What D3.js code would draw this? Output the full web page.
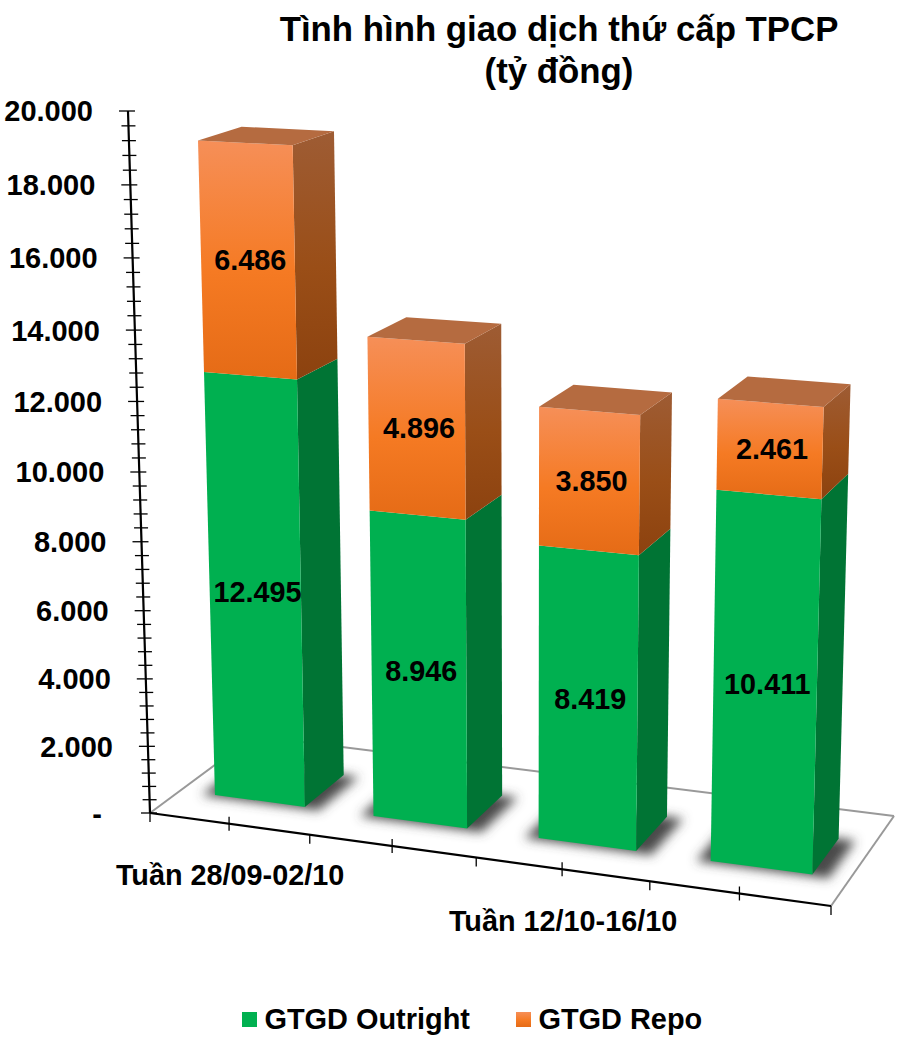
<!DOCTYPE html>
<html>
<head>
<meta charset="utf-8">
<script src="https://d3js.org/d3.v7.min.js"></script>
<style>
html,body{margin:0;padding:0;background:#fff}
svg{display:block}
text{font-family:"Liberation Sans",Arial,sans-serif;font-weight:bold;fill:#000}
</style>
</head>
<body>
<svg id="chart" width="922" height="1045"></svg>
<script>
const categories = ["Tuần 28/09-02/10", "Tuần 05/10-09/10", "Tuần 12/10-16/10", "Tuần 19/10-23/10"];
const shownCategoryLabels = ["Tuần 28/09-02/10", "Tuần 12/10-16/10"];
const outright = [12495, 8946, 8419, 10411];
const repo = [6486, 4896, 3850, 2461];
const seriesNames = ["GTGD Outright", "GTGD Repo"];
const yTicks = [0, 2000, 4000, 6000, 8000, 10000, 12000, 14000, 16000, 18000, 20000];
const titleLines = ["Tình hình giao dịch thứ cấp TPCP", "(tỷ đồng)"];

const svg = d3.select("#chart");

/* ---------- perspective projection of the chart box ---------- */
const q = [[150,813],[831,906],[894,816],[254,736]];  // floor corners on screen
const dx1=q[1][0]-q[2][0], dx2=q[3][0]-q[2][0], sx=q[0][0]-q[1][0]+q[2][0]-q[3][0];
const dy1=q[1][1]-q[2][1], dy2=q[3][1]-q[2][1], sy=q[0][1]-q[1][1]+q[2][1]-q[3][1];
const det=dx1*dy2-dx2*dy1;
const g=(sx*dy2-dx2*sy)/det, h=(dx1*sy-sx*dy1)/det;
const a=q[1][0]-q[0][0]+g*q[1][0], b=q[3][0]-q[0][0]+h*q[3][0], c=q[0][0];
const d=q[1][1]-q[0][1]+g*q[1][1], e=q[3][1]-q[0][1]+h*q[3][1], f=q[0][1];
const a3=-29.1, b3=-708.15, g3=-0.0554;

const tScale = d3.scaleLinear().domain([0, 20000]).range([0, 1]);
const uScale = d3.scaleBand().domain(d3.range(categories.length)).range([0.002, 1.002]).paddingInner(0.428).paddingOuter(0.214);
const vFront = 0.28, vBack = 0.68;

function project(u, v, value) {
  const t = tScale(value);
  const D = 1 + g*u + h*v + g3*t;
  return [(c + a*u + b*v + a3*t)/D, (f + d*u + e*v + b3*t)/D];
}
const poly = pts => pts.map(p => p.join(",")).join(" ");

/* ---------- defs ---------- */
const defs = svg.append("defs");
function grad(id, stops) {
  const lg = defs.append("linearGradient").attr("id", id).attr("x1",0).attr("y1",0).attr("x2",0).attr("y2",1);
  stops.forEach(s => lg.append("stop").attr("offset", s[0]).attr("stop-color", s[1]));
}
grad("orangeFront", [[0,"#F68F58"],[0.55,"#F57A23"],[1,"#E56B16"]]);
grad("orangeSide", [[0,"#9E5C34"],[0.55,"#9A4E17"],[1,"#8C420F"]]);
grad("orangeLegend", [[0,"#F68F58"],[0.55,"#F57A23"],[1,"#E56B16"]]);
defs.append("filter").attr("id","soft").attr("x","-30%").attr("y","-50%").attr("width","160%").attr("height","200%")
  .append("feGaussianBlur").attr("stdDeviation",5.5);

/* ---------- title ---------- */
svg.append("g").selectAll("text").data(titleLines).join("text")
  .attr("x",559).attr("y",(_,i)=>41+i*42).attr("text-anchor","middle")
  .style("font-size","34.8px").text(t=>t);

/* ---------- floor ---------- */
const floor = svg.append("g");
const floorEdges = [[[0,0],[0,1]],[[0,1],[1,1]],[[1,1],[1,0]]];
floor.selectAll("line").data(floorEdges).join("line")
  .attr("x1",s=>project(s[0][0],s[0][1],0)[0]).attr("y1",s=>project(s[0][0],s[0][1],0)[1])
  .attr("x2",s=>project(s[1][0],s[1][1],0)[0]).attr("y2",s=>project(s[1][0],s[1][1],0)[1])
  .attr("stroke","#999").attr("stroke-width",2);

/* ---------- shadows ---------- */
svg.append("g").attr("filter","url(#soft)").selectAll("polygon").data(categories).join("polygon")
  .attr("fill","#484848")
  .attr("points",(_,i)=>{
    const u0=uScale(i)-0.018,u1=uScale(i)+uScale.bandwidth()+0.024;
    return poly([project(u0,vFront-0.02,0),project(u1,vFront-0.02,0),project(u1,vBack,0),project(u0,vBack,0)]);
  });

/* ---------- axes ---------- */
const axes = svg.append("g");
const yMinor = d3.range(0, 20001, 400).filter(v => !yTicks.includes(v));
axes.selectAll("line.minor").data(yMinor).join("line").attr("class","minor")
  .attr("x1",v=>project(0,0,v)[0]-7).attr("x2",v=>project(0,0,v)[0]+7)
  .attr("y1",v=>project(0,0,v)[1]).attr("y2",v=>project(0,0,v)[1])
  .attr("stroke","#000").attr("stroke-width",1.3);
axes.selectAll("line.major").data(yTicks).join("line").attr("class","major")
  .attr("x1",v=>project(0,0,v)[0]-9).attr("x2",v=>project(0,0,v)[0]+7)
  .attr("y1",v=>project(0,0,v)[1]).attr("y2",v=>project(0,0,v)[1])
  .attr("stroke","#000").attr("stroke-width",1.3);
const axisLines = [[[0,0,0],[0,0,20000]],[[0,0,0],[1,0,0]]];
axes.selectAll("line.axis").data(axisLines).join("line").attr("class","axis")
  .attr("x1",s=>project(...s[0])[0]).attr("y1",s=>project(...s[0])[1])
  .attr("x2",s=>project(...s[1])[0]).attr("y2",s=>project(...s[1])[1])
  .attr("stroke","#000").attr("stroke-width",2.2);
const xTickU = d3.range(0, 9).map(i => i/8);
axes.selectAll("line.xt").data(xTickU).join("line").attr("class","xt")
  .attr("x1",u=>project(u,0,0)[0]).attr("x2",u=>project(u,0,0)[0])
  .attr("y1",(u,i)=>project(u,0,0)[1]-(i%2?7:0)).attr("y2",(u,i)=>project(u,0,0)[1]+(i%2?7:9))
  .attr("stroke","#000").attr("stroke-width",1.3);

const fmt = d3.formatLocale({decimal:",",thousands:".",grouping:[3],currency:["",""]}).format(",d");
axes.selectAll("text.yl").data(yTicks).join("text").attr("class","yl")
  .attr("x",v=>project(0,0,v)[0]-(v===0?48:35)).attr("y",v=>project(0,0,v)[1]+10.5)
  .attr("text-anchor","end").style("font-size","29px")
  .text(v=>v===0?"-":fmt(v));

/* x labels */
const catLabelY = [885, 931];
svg.append("g").selectAll("text").data(shownCategoryLabels).join("text")
  .attr("x",(l,i)=>project((categories.indexOf(l)+0.5)/categories.length,0,0)[0]+1)
  .attr("y",(_,i)=>catLabelY[i]).attr("text-anchor","middle")
  .style("font-size","28.8px").text(l=>l);

/* ---------- bars ---------- */
const bars = svg.append("g").selectAll("g").data(categories).join("g");
bars.each(function(_,i){
  const G = d3.select(this);
  const u0=uScale(i), u1=u0+uScale.bandwidth();
  const segs=[
    {lo:0,hi:outright[i],front:"#00B050",side:"#007434",val:outright[i]},
    {lo:outright[i],hi:outright[i]+repo[i],front:"url(#orangeFront)",side:"url(#orangeSide)",val:repo[i]}
  ];
  segs.forEach(s=>{
    G.append("polygon").attr("fill",s.side)
      .attr("points",poly([project(u1,vFront,s.hi),project(u1,vBack,s.hi),project(u1,vBack,s.lo),project(u1,vFront,s.lo)]));
    G.append("polygon").attr("fill",s.front)
      .attr("points",poly([project(u0,vFront,s.hi),project(u1,vFront,s.hi),project(u1,vFront,s.lo),project(u0,vFront,s.lo)]));
  });
  const top=outright[i]+repo[i];
  G.append("polygon").attr("fill","#B56B40")
    .attr("points",poly([project(u0,vFront,top),project(u1,vFront,top),project(u1,vBack,top),project(u0,vBack,top)]));
  segs.forEach(s=>{
    const p=project((u0+u1)/2,vFront,(s.lo+s.hi)/2);
    G.append("text").attr("x",p[0]+2.5).attr("y",p[1]+10).attr("text-anchor","middle")
      .style("font-size","28.8px").text(fmt(s.val));
  });
});

/* ---------- legend ---------- */
const legendX = [242, 516];
const legendFill = ["#00B050","url(#orangeLegend)"];
const lg = svg.append("g").selectAll("g").data(seriesNames).join("g");
lg.append("rect").attr("x",(_,i)=>legendX[i]).attr("y",1012).attr("width",15).attr("height",15).attr("fill",(_,i)=>legendFill[i]);
lg.append("text").attr("x",(_,i)=>legendX[i]+22.5).attr("y",1029).style("font-size","28.9px").text(t=>t);
</script>
</body>
</html>
